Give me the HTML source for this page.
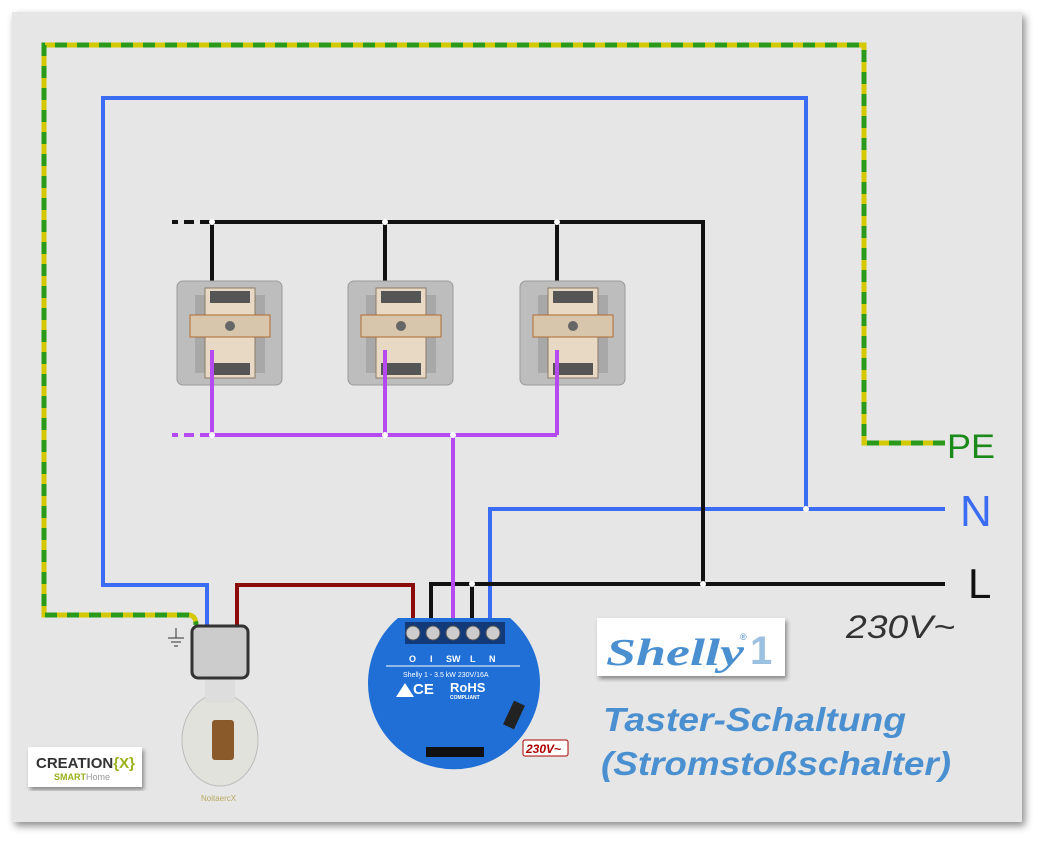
<!DOCTYPE html>
<html><head><meta charset="utf-8"><style>
body{margin:0;width:1042px;height:842px;background:#fff;overflow:hidden;font-family:"Liberation Sans",sans-serif}
</style></head><body>
<svg width="1042" height="842" xmlns="http://www.w3.org/2000/svg">
<defs><filter id="sh" x="-5%" y="-5%" width="110%" height="110%"><feDropShadow dx="3" dy="4" stdDeviation="4" flood-color="#000" flood-opacity="0.45"/></filter>
<filter id="s2"><feDropShadow dx="2" dy="3" stdDeviation="2" flood-color="#000" flood-opacity="0.4"/></filter></defs>
<rect x="12" y="12" width="1010" height="810" fill="#e6e6e6" filter="url(#sh)"/>
<!-- PE -->
<path d="M945 443 H864 V45 H44 V615 H188 Q196 615 196 625" fill="none" stroke="#d4c800" stroke-width="5"/>
<path d="M945 443 H864 V45 H44 V615 H188 Q196 615 196 625" fill="none" stroke="#2a9a1a" stroke-width="5" stroke-dasharray="12 10"/>
<!-- N -->
<g fill="none" stroke="#3a6cf4" stroke-width="4">
<path d="M945 509 H490 V622"/><path d="M806 509 V98 H103 V585 H207 V626"/></g>
<circle cx="806" cy="509" r="3" fill="#fff"/>
<!-- L -->
<g fill="none" stroke="#111" stroke-width="4">
<path d="M945 584 H431 V618"/><path d="M703 584 V222 H210"/><path d="M210 222 H172" stroke-dasharray="10 6"/>
<path d="M212 222 V290M385 222 V290M557 222 V290"/><path d="M472 584 V618"/></g>
<circle cx="703" cy="584" r="3" fill="#fff"/><circle cx="472" cy="584" r="3" fill="#fff"/>
<circle cx="385" cy="222" r="3" fill="#fff"/><circle cx="557" cy="222" r="3" fill="#fff"/><circle cx="212" cy="222" r="3" fill="#fff"/>
<!-- red -->
<path d="M237 625 V585 H413 V618" fill="none" stroke="#8b0a0a" stroke-width="4"/>
<!-- switches -->
<g id="sw">
<rect x="177" y="281" width="105" height="104" rx="6" fill="#bdbdbd" stroke="#9a9a9a"/>
<rect x="195" y="295" width="70" height="78" fill="#a8a8a8"/>
<rect x="205" y="288" width="50" height="90" fill="#e8d9c4" stroke="#8a7a66"/>
<rect x="190" y="315" width="80" height="22" fill="#d8c6ac" stroke="#b06a30"/>
<circle cx="230" cy="326" r="5" fill="#666"/>
<rect x="210" y="291" width="40" height="12" fill="#555"/><rect x="210" y="363" width="40" height="12" fill="#555"/>
</g>
<use href="#sw" x="171"/><use href="#sw" x="343"/>
<!-- purple -->
<g fill="none" stroke="#b44af0" stroke-width="4">
<path d="M212 350 V435M385 350 V435M557 350 V435"/><path d="M210 435 H557"/><path d="M210 435 H172" stroke-dasharray="10 6"/><path d="M453 435 V622"/></g>
<circle cx="212" cy="435" r="3" fill="#fff"/><circle cx="385" cy="435" r="3" fill="#fff"/><circle cx="453" cy="435" r="3" fill="#fff"/>
<!-- Shelly device -->
<path d="M398 618 H510 A86 86 0 1 1 398 618 Z" fill="#1f6fd6"/>
<rect x="405" y="622" width="100" height="22" fill="#123a78"/>
<g fill="#ccc" stroke="#555"><circle cx="413" cy="633" r="7"/><circle cx="433" cy="633" r="7"/><circle cx="453" cy="633" r="7"/><circle cx="473" cy="633" r="7"/><circle cx="493" cy="633" r="7"/></g>
<g fill="#fff" font-size="9" font-weight="bold"><text x="409" y="662">O</text><text x="430" y="662">I</text><text x="446" y="662">SW</text><text x="470" y="662">L</text><text x="489" y="662">N</text>
<text x="403" y="677" font-size="7" font-weight="normal">Shelly 1 - 3.5 kW 230V/16A</text>
<text x="413" y="694" font-size="15">CE</text><text x="450" y="692" font-size="13">RoHS</text><text x="450" y="699" font-size="5">COMPLIANT</text></g>
<line x1="386" y1="666" x2="520" y2="666" stroke="#fff"/>
<polygon points="396,697 405,683 414,697" fill="#fff"/>
<rect x="426" y="747" width="58" height="10" fill="#111"/>
<rect x="508" y="702" width="12" height="26" fill="#222" transform="rotate(25 514 715)"/>
<rect x="523" y="740" width="45" height="16" fill="#fff" stroke="#a00" rx="2"/>
<text x="526" y="753" fill="#a00" font-size="12" font-style="italic" font-weight="bold">230V~</text>
<!-- bulb -->
<ellipse cx="220" cy="740" rx="38" ry="46" fill="#e2e2dc" stroke="#bbb"/>
<rect x="205" y="678" width="30" height="25" fill="#ddd"/>
<rect x="212" y="720" width="22" height="40" fill="#8a5a2a" rx="3"/>
<rect x="192" y="626" width="56" height="52" rx="6" fill="#ccc" stroke="#333" stroke-width="3"/>
<text x="201" y="801" fill="#b8a860" font-size="8">NoitaercX</text>
<path d="M176 628 V638 M168 638 H184 M171 642 H181 M174 646 H178" stroke="#333" fill="none"/>
<!-- creationx logo -->
<rect x="28" y="747" width="114" height="40" fill="#fff" filter="url(#s2)"/>
<text x="36" y="768" font-size="15" font-weight="bold" fill="#333">CREATION<tspan fill="#9ab11a">{X}</tspan></text>
<text x="54" y="780" font-size="9" font-weight="bold" fill="#9ab11a">SMART<tspan fill="#999" font-weight="normal">Home</tspan></text>
<!-- Shelly logo -->
<rect x="597" y="618" width="188" height="58" fill="#fff" filter="url(#s2)"/>
<text x="606" y="665" font-family="Liberation Serif,serif" font-style="italic" font-weight="bold" font-size="38" fill="#4a90d0" textLength="138" lengthAdjust="spacingAndGlyphs">Shelly</text>
<text x="740" y="640" font-size="9" fill="#4a90d0">®</text>
<text x="750" y="664" font-size="40" font-weight="bold" fill="#9bc0e0">1</text>
<!-- labels -->
<text x="947" y="458" font-size="34" fill="#1b8a1b" textLength="48" lengthAdjust="spacingAndGlyphs">PE</text>
<text x="960" y="526" font-size="44" fill="#3a6cf4">N</text>
<text x="968" y="598" font-size="42" fill="#111">L</text>
<text x="846" y="638" font-size="32" font-style="italic" fill="#333" textLength="109" lengthAdjust="spacingAndGlyphs">230V~</text>
<text x="603" y="731" font-size="33" font-style="italic" font-weight="bold" fill="#4a90d0" textLength="303" lengthAdjust="spacingAndGlyphs">Taster-Schaltung</text>
<text x="601" y="775" font-size="33" font-style="italic" font-weight="bold" fill="#4a90d0" textLength="350" lengthAdjust="spacingAndGlyphs">(Stromstoßschalter)</text>
</svg>
</body></html>
